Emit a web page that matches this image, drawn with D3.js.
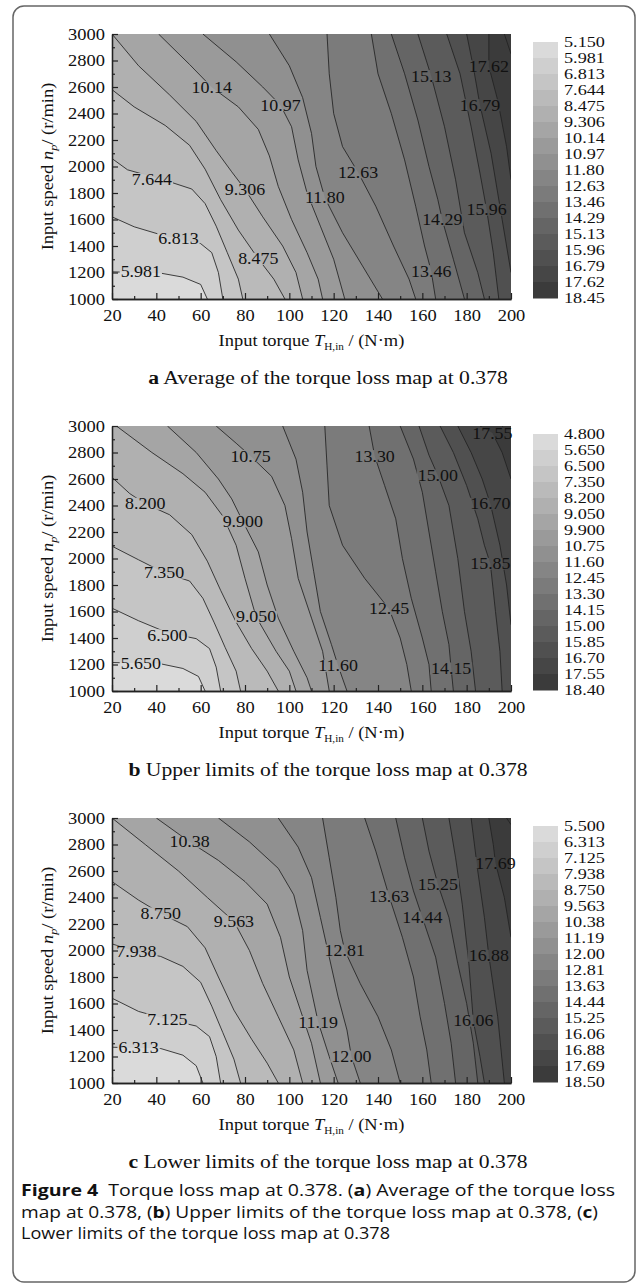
<!DOCTYPE html>
<html>
<head>
<meta charset="utf-8">
<script src="https://cdnjs.cloudflare.com/ajax/libs/d3/7.8.5/d3.min.js"></script>
<style>
  body { margin: 0; background: #fff; }
  text { font-family: "Liberation Serif", "Times New Roman", serif; fill: #111; }
</style>
</head>
<body>
<script>
// ---- data ----
const xTicks = [20, 40, 60, 80, 100, 120, 140, 160, 180, 200];
const yTicks = [1000, 1200, 1400, 1600, 1800, 2000, 2200, 2400, 2600, 2800, 3000];

const levelsA = ['5.150','5.981','6.813','7.644','8.475','9.306','10.14','10.97','11.80','12.63','13.46','14.29','15.13','15.96','16.79','17.62','18.45'];
const levelsB = ['4.800','5.650','6.500','7.350','8.200','9.050','9.900','10.75','11.60','12.45','13.30','14.15','15.00','15.85','16.70','17.55','18.40'];
const levelsC = ['5.500','6.313','7.125','7.938','8.750','9.563','10.38','11.19','12.00','12.81','13.63','14.44','15.25','16.06','16.88','17.69','18.50'];

// contour lines for levels 1..16, points [torque, speed], higher values on the left of the walk
const linesA = [
  [[20,1205],[42,1195],[52,1165],[60,1110],[63,1000]],
  [[20,1620],[30,1545],[45,1470],[60,1418],[65,1350],[68,1200],[70,1000]],
  [[20,2060],[27,1975],[45,1890],[56,1830],[62,1720],[67,1550],[72,1350],[77,1150],[79,1000]],
  [[20,2580],[30,2450],[44,2310],[55,2160],[62,1980],[69,1750],[77,1520],[86,1303],[93,1150],[98,1000]],
  [[20,3000],[32,2760],[46,2540],[58,2340],[67,2120],[74,1960],[80,1828],[88,1620],[97,1400],[103,1200],[106,1000]],
  [[41,3000],[55,2770],[65,2598],[77,2450],[86,2280],[91,2080],[95,1850],[101,1600],[108,1350],[113,1150],[115,1000]],
  [[61,3000],[76,2790],[88,2600],[96,2463],[101,2300],[104,2050],[108,1800],[114,1550],[120,1300],[125,1000]],
  [[91,3000],[100,2760],[106,2520],[110,2250],[112,2000],[116,1764],[124,1500],[133,1250],[142,1000]],
  [[117,3000],[118,2700],[120,2400],[124,2150],[131,1956],[139,1700],[147,1400],[154,1150],[157,1000]],
  [[137,3000],[140,2700],[146,2400],[152,2050],[157,1700],[161,1400],[164,1210],[166,1000]],
  [[146,3000],[152,2700],[158,2350],[163,2000],[167,1750],[169,1597],[174,1300],[179,1000]],
  [[158,3000],[164,2683],[170,2300],[175,1900],[179,1500],[185,1200],[188,1000]],
  [[171,3000],[177,2700],[182,2300],[186,1950],[189,1674],[192,1350],[194.5,1000]],
  [[180,3000],[183,2750],[186,2463],[191,2100],[196,1600],[200,1200]],
  [[190,3000],[190,2756],[194,2500],[198,2150],[200,1900]],
  [[197,3000],[200,2850]]
];
const labelsA = [
  ['10.14',65,2598],['10.97',96,2463],['15.13',164,2683],['17.62',190,2756],['16.79',186,2463],
  ['7.644',38,1905],['9.306',80,1828],['12.63',131,1956],['11.80',116,1764],['14.29',169,1597],
  ['15.96',189,1674],['6.813',50,1456],['8.475',86,1303],['5.981',33,1212],['13.46',164,1210]
];

const linesB = [
  [[20,1215],[42,1205],[52,1170],[59,1110],[62,1000]],
  [[20,1625],[32,1530],[45,1440],[58,1395],[64,1320],[67,1180],[69,1000]],
  [[20,2093],[32,1990],[43.5,1893],[55,1830],[61,1700],[66,1520],[71,1330],[76,1150],[78,1000]],
  [[20,2613],[28,2490],[35,2413],[46,2330],[56,2180],[63,1980],[69,1760],[76,1520],[83,1320],[90,1150],[95,1000]],
  [[22,3000],[38,2800],[52,2640],[62,2500],[70,2320],[76,2100],[80,1850],[85,1560],[94,1300],[100,1150],[103,1000]],
  [[45,3000],[58,2800],[68,2600],[74,2450],[79,2280],[86,2050],[90,1800],[95,1550],[102,1300],[108,1100],[110,1000]],
  [[67,3000],[76,2870],[82.5,2773],[92,2620],[98,2400],[101,2150],[104,1850],[110,1550],[115,1300],[118,1000]],
  [[97,3000],[103,2750],[106,2500],[108,2200],[111,1900],[114,1600],[119,1350],[122,1190],[126,1000]],
  [[116,3000],[117,2700],[118,2400],[124,2100],[134,1850],[145,1620],[150,1400],[153,1200],[155,1000]],
  [[136,3000],[138.5,2773],[143,2550],[148,2300],[151,2000],[155,1700],[160,1400],[163,1200],[164,1000]],
  [[150,3000],[156,2750],[160,2500],[163,2200],[166,1900],[169,1600],[172,1350],[173,1170],[174,1000]],
  [[158.5,3000],[163,2780],[167,2627],[172,2400],[176,2000],[179,1600],[182,1300],[184,1000]],
  [[168,3000],[174,2800],[180,2550],[185,2300],[188,2100],[190.7,1960],[193,1600],[195,1300],[196,1000]],
  [[176,3000],[182,2800],[187,2600],[190.7,2413],[195,2100],[198,1800],[200,1500]],
  [[186,3000],[191.6,2947],[196,2800],[200,2600]],
  [[196,3000],[200,2930]]
];
const labelsB = [
  ['10.75',82.5,2773],['13.30',138.5,2773],['17.55',191.6,2947],['15.00',167,2627],['16.70',190.7,2413],
  ['8.200',35,2413],['9.900',79,2280],['7.350',43.5,1893],['15.85',190.7,1960],['9.050',85,1560],
  ['12.45',145,1620],['6.500',45,1420],['5.650',33,1210],['11.60',122,1190],['14.15',173,1170]
];

const linesC = [
  [[20,1270],[42,1260],[52,1210],[58,1130],[61,1000]],
  [[20,1640],[32,1540],[45,1480],[58,1430],[64,1350],[67,1200],[69,1000]],
  [[20,2050],[31,1990],[42,1955],[52,1880],[60,1760],[65,1580],[70,1380],[75,1180],[78,1000]],
  [[20,2520],[32,2380],[42,2280],[54,2180],[62,2020],[68,1800],[75,1550],[83,1330],[90,1150],[95,1000]],
  [[20,3000],[35,2800],[50,2600],[63,2400],[75,2220],[82,2000],[88,1750],[95,1500],[102,1250],[106,1000]],
  [[40,3000],[55,2820],[68,2680],[80,2520],[90,2350],[96,2100],[100,1800],[105,1550],[110,1300],[114,1000]],
  [[68,3000],[82,2820],[95,2620],[102,2420],[106,2150],[108,1850],[113,1460],[118,1200],[122,1000]],
  [[95,3000],[104,2780],[110,2550],[114,2250],[118,1950],[122,1650],[126,1400],[128,1200],[132,1000]],
  [[115,3000],[118,2700],[121,2400],[123,2150],[125,2000],[132,1750],[140,1500],[146,1250],[150,1000]],
  [[134,3000],[139,2750],[145,2410],[151,2100],[156,1800],[159,1500],[162,1250],[164,1000]],
  [[148,3000],[152,2700],[156,2450],[160,2250],[166,1950],[170,1600],[173,1300],[175,1000]],
  [[160,3000],[163,2750],[167,2500],[172,2250],[176,1900],[180,1600],[183,1300],[185,1000]],
  [[172,3000],[175,2700],[178,2350],[181,1900],[183,1470],[186,1200],[188,1000]],
  [[182,3000],[185,2600],[188,2250],[190,1960],[194,1500],[197,1000]],
  [[190,3000],[192,2800],[193,2660],[197,2400],[200,2100]],
  [[198,3000],[200,2950]]
];
const labelsC = [
  ['10.38',55,2820],['17.69',193,2660],['15.25',167,2500],['13.63',145,2410],['8.750',42,2280],
  ['9.563',75,2220],['14.44',160,2250],['12.81',125,2000],['7.938',31,1990],['16.88',190,1960],
  ['7.125',45,1480],['11.19',113,1460],['16.06',183,1470],['6.313',32,1270],['12.00',128,1200]
];

const captionLetters = ['a', 'b', 'c'];
const captionTexts = [
  'Average of the torque loss map at 0.378',
  'Upper limits of the torque loss map at 0.378',
  'Lower limits of the torque loss map at 0.378'
];

// ---- layout ----
const W = 637, H = 1283;
const plotLeft = 112, plotRight = 511, plotH = 265;
const panelTops = [34, 426, 818];
const legendX = 533, legendW = 25;
const STRETCH = 1.12; // the serif type in the picture is a little wide

const svg = d3.select('body').append('svg')
  .attr('width', W).attr('height', H);

// outer rounded frame
svg.append('rect')
  .attr('x', 13).attr('y', 6).attr('width', 622).attr('height', 1276)
  .attr('rx', 11).attr('fill', 'none').attr('stroke', '#666').attr('stroke-width', 1.5);

const xscale = d3.scaleLinear().domain([20, 200]).range([plotLeft, plotRight]);
const bandColor = d3.scaleLinear().domain([0, 15]).range(['#dadada', '#3b3b3b']).clamp(true);

// widen text about its own x position
function stretch(sel, s) {
  sel.each(function () {
    const x = +this.getAttribute('x') || 0;
    d3.select(this).attr('transform', `translate(${x},0) scale(${s},1) translate(${-x},0)`);
  });
}

const panels = [
  { levels: levelsA, lines: linesA, labels: labelsA },
  { levels: levelsB, lines: linesB, labels: labelsB },
  { levels: levelsC, lines: linesC, labels: labelsC }
];

// position on the plot border, counter-clockwise from bottom-left
function perim(p) {
  const [x, y] = p, e = 1e-6;
  if (y <= 1000 + e) return (x - 20) / 180;
  if (x >= 200 - e) return 1 + (y - 1000) / 2000;
  if (y >= 3000 - e) return 2 + (200 - x) / 180;
  return 3 + (3000 - y) / 2000;
}
const corners = [[20, 1000], [200, 1000], [200, 3000], [20, 3000]];

// region above a level: the line plus the border walked round to its start
function region(line) {
  const tS0 = perim(line[0]);
  const tE = perim(line[line.length - 1]);
  const tS = tS0 <= tE ? tS0 + 4 : tS0;
  const pts = line.slice();
  for (let c = Math.floor(tE) + 1; c < tS; c++) pts.push(corners[c % 4]);
  return pts;
}

panels.forEach((p, i) => {
  const top = panelTops[i];
  const yscale = d3.scaleLinear().domain([1000, 3000]).range([top + plotH, top]);
  const g = svg.append('g');

  const clipId = 'clip' + i;
  svg.append('clipPath').attr('id', clipId).append('rect')
    .attr('x', plotLeft).attr('y', top).attr('width', plotRight - plotLeft).attr('height', plotH);

  const line = d3.line().x(d => xscale(d[0])).y(d => yscale(d[1]));

  // filled bands
  const fills = g.append('g').attr('clip-path', `url(#${clipId})`);
  fills.append('rect')
    .attr('x', plotLeft).attr('y', top).attr('width', plotRight - plotLeft).attr('height', plotH)
    .attr('fill', bandColor(0));
  fills.selectAll('path.band').data(p.lines).join('path')
    .attr('class', 'band')
    .attr('d', d => line(region(d)) + 'Z')
    .attr('fill', (d, k) => bandColor(k + 1));

  // contour labels (measured first for the gaps in the lines)
  const labG = g.append('g');
  const labs = labG.selectAll('text').data(p.labels).join('text')
    .attr('x', d => xscale(d[1]))
    .attr('y', d => yscale(d[2]))
    .attr('text-anchor', 'middle')
    .attr('dy', '0.35em')
    .style('font-size', '16px')
    .text(d => d[0]);
  stretch(labs, STRETCH);

  const maskId = 'mask' + i;
  const mask = svg.append('mask').attr('id', maskId);
  mask.append('rect').attr('x', 0).attr('y', 0).attr('width', W).attr('height', H).attr('fill', '#fff');
  labs.each(function (d) {
    const w = this.getComputedTextLength() * STRETCH;
    mask.append('rect')
      .attr('x', xscale(d[1]) - w / 2 - 1).attr('y', yscale(d[2]) - 6)
      .attr('width', w + 2).attr('height', 12).attr('fill', '#000');
  });

  // contour lines
  g.append('g').attr('clip-path', `url(#${clipId})`)
    .append('g').attr('mask', `url(#${maskId})`)
    .selectAll('path').data(p.lines).join('path')
    .attr('d', line)
    .attr('fill', 'none').attr('stroke', '#222').attr('stroke-width', 0.85);
  labG.raise();

  // axes, ticks pointing inward
  const xaxis = d3.axisBottom(xscale).tickValues(xTicks).tickSize(-6).tickSizeOuter(0).tickPadding(10);
  const xminor = d3.axisBottom(xscale).tickValues(d3.range(30, 200, 20)).tickSize(-3).tickSizeOuter(0).tickFormat('');
  const yaxis = d3.axisLeft(yscale).tickValues(yTicks).tickSize(-6).tickSizeOuter(0).tickPadding(7).tickFormat(d3.format('d'));
  const yminor = d3.axisLeft(yscale).tickValues(d3.range(1100, 3000, 200)).tickSize(-3).tickSizeOuter(0).tickFormat('');

  [[xaxis, 'x'], [xminor, 'x'], [yaxis, 'y'], [yminor, 'y']].forEach(([ax, t]) => {
    const a = g.append('g')
      .attr('transform', t === 'x' ? `translate(0,${top + plotH})` : `translate(${plotLeft},0)`)
      .call(ax);
    a.selectAll('path.domain').attr('stroke', '#222').attr('stroke-width', 1.3);
    a.selectAll('line').attr('stroke', '#222').attr('stroke-width', 1.2);
    const tx = a.selectAll('text').style('font-size', '16.5px')
      .style('font-family', '"Liberation Serif", serif').attr('fill', '#111');
    stretch(tx, STRETCH);
  });

  // axis titles
  const xt = g.append('text')
    .attr('x', (plotLeft + plotRight) / 2).attr('y', top + plotH + 47)
    .attr('text-anchor', 'middle').style('font-size', '16.5px');
  xt.append('tspan').text('Input torque ');
  xt.append('tspan').style('font-style', 'italic').text('T');
  xt.append('tspan').attr('dy', 4).style('font-size', '10px').text('H,in');
  xt.append('tspan').attr('dy', -4).text(' / (N\u00b7m)');
  stretch(xt, STRETCH);

  const yt = g.append('text')
    .attr('transform', `translate(53,${top + plotH / 2}) rotate(-90) scale(${STRETCH},1)`)
    .attr('text-anchor', 'middle').style('font-size', '16.5px');
  yt.append('tspan').text('Input speed ');
  yt.append('tspan').style('font-style', 'italic').text('n');
  yt.append('tspan').attr('dy', 4).style('font-size', '11px').style('font-style', 'italic').text('p');
  yt.append('tspan').attr('dy', -4).text('/ (r/min)');

  // legend
  const ly = d3.scaleLinear().domain([0, 16]).range([top + 8, top + plotH - 1]);
  g.selectAll('rect.leg').data(d3.range(16)).join('rect')
    .attr('class', 'leg')
    .attr('x', legendX).attr('width', legendW)
    .attr('y', k => ly(k)).attr('height', k => ly(k + 1) - ly(k) + 0.5)
    .attr('fill', k => bandColor(k));
  const lt = g.selectAll('text.legl').data(p.levels).join('text')
    .attr('class', 'legl')
    .attr('x', legendX + legendW + 6).attr('y', (d, k) => ly(k))
    .attr('dy', '0.36em').style('font-size', '14px')
    .text(d => d);
  stretch(lt, 1.3);

  // sub caption
  const ct = g.append('text')
    .attr('x', 328).attr('y', top + plotH + 85)
    .attr('text-anchor', 'middle').style('font-size', '19px');
  ct.append('tspan').style('font-weight', 'bold').text(captionLetters[i]);
  ct.append('tspan').text(' ' + captionTexts[i]);
  stretch(ct, 1.14);
});

// figure caption
const figLines = [
  [['Figure 4', true], ['  Torque loss map at 0.378. (', false], ['a', true], [') Average of the torque loss', false]],
  [['map at 0.378, (', false], ['b', true], [') Upper limits of the torque loss map at 0.378, (', false], ['c', true], [')', false]],
  [['Lower limits of the torque loss map at 0.378', false]]
];
const figWidths = [594, 577, 369];
figLines.forEach((parts, j) => {
  const t = svg.append('text')
    .attr('x', 21).attr('y', 1196 + j * 21.5)
    .attr('textLength', figWidths[j]).attr('lengthAdjust', 'spacingAndGlyphs')
    .style('font-size', '16px').style('font-family', '"Open Sans", "Noto Sans", sans-serif');
  parts.forEach(([s, b]) => t.append('tspan').style('font-weight', b ? 'bold' : 'normal')
    .attr('xml:space', 'preserve').style('font-family', '"Open Sans", "Noto Sans", sans-serif').text(s));
});
</script>
</body>
</html>
